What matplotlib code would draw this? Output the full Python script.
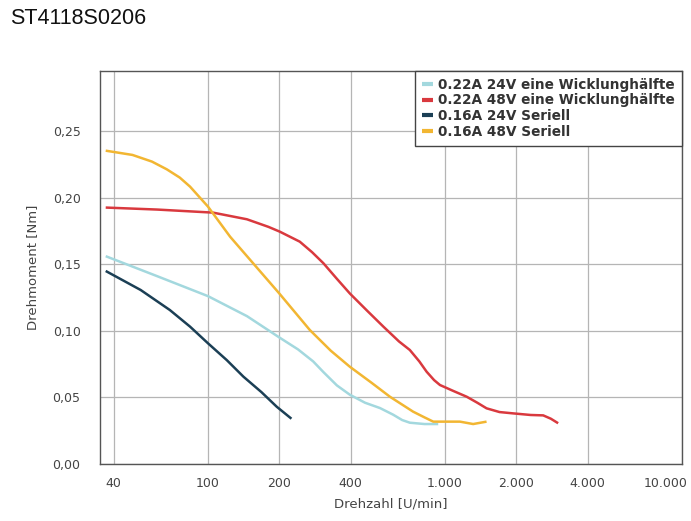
import matplotlib
matplotlib.use("Agg")
import matplotlib.pyplot as plt
import matplotlib.transforms as mtransforms
from matplotlib.ticker import FixedLocator, FixedFormatter, NullLocator

# Drehzahl [U/min] / Drehmoment [Nm]
rpm_a = [37, 61, 100, 146, 200, 240, 278, 307, 350, 397, 460, 532, 605, 660, 711, 820, 937]
nm_a = [0.156, 0.141, 0.126, 0.111, 0.095, 0.086, 0.077, 0.069, 0.059, 0.052, 0.046,
        0.042, 0.037, 0.033, 0.031, 0.030, 0.030]

rpm_b = [37, 61, 105, 146, 180, 201, 244, 275, 307, 350, 397, 470, 550, 640, 711, 780,
         837, 900, 953, 1080, 1236, 1370, 1499, 1700, 1941, 2300, 2600, 2800, 3006]
nm_b = [0.1925, 0.191, 0.1887, 0.1837, 0.178, 0.1744, 0.1669, 0.159, 0.1507, 0.139, 0.128,
        0.115, 0.1031, 0.092, 0.0856, 0.077, 0.0693, 0.063, 0.0593, 0.055, 0.0505, 0.046,
        0.0418, 0.039, 0.038, 0.0368, 0.0365, 0.034, 0.0306]

rpm_c = [37, 52, 69, 84, 100, 120, 141, 168, 195, 225]
nm_c = [0.1449, 0.1306, 0.1156, 0.1031, 0.0906, 0.078, 0.0656, 0.054, 0.043, 0.034]

rpm_d = [37, 48, 58, 67, 76, 84, 100, 124, 155, 200, 269, 330, 397, 490, 586, 734, 820,
         893, 1000, 1157, 1316, 1499]
nm_d = [0.2352, 0.232, 0.227, 0.2212, 0.215, 0.2082, 0.1932, 0.1706, 0.1507, 0.128, 0.1006,
        0.085, 0.073, 0.061, 0.0505, 0.0393, 0.035, 0.0318, 0.0318, 0.0318, 0.030, 0.0318]

labels = ["0.22A 24V eine Wicklunghälfte", "0.22A 48V eine Wicklunghälfte",
          "0.16A 24V Seriell", "0.16A 48V Seriell"]
colors = ["#a3d8de", "#d9393e", "#1b3f55", "#f2b632"]

xticks = [40, 100, 200, 400, 1000, 2000, 4000, 10000]
xticklabels = ["40", "100", "200", "400", "1.000", "2.000", "4.000", "10.000"]
yticks = [0.0, 0.05, 0.10, 0.15, 0.20, 0.25]
yticklabels = ["0,00", "0,05", "0,10", "0,15", "0,20", "0,25"]

fig = plt.figure(figsize=(6.91, 5.21), dpi=100)
ax = fig.add_axes([0.1447, 0.1094, 0.842, 0.7543])

for xs, ys, lab, col in zip([rpm_a, rpm_b, rpm_c, rpm_d], [nm_a, nm_b, nm_c, nm_d], labels, colors):
    ax.plot(xs, ys, color=col, lw=1.8, label=lab, solid_capstyle="butt", solid_joinstyle="round")

ax.set_xscale("log")
ax.set_xlim(35, 10000)
ax.set_ylim(0, 0.295)
ax.xaxis.set_major_locator(FixedLocator(xticks))
ax.xaxis.set_major_formatter(FixedFormatter(xticklabels))
ax.xaxis.set_minor_locator(NullLocator())
ax.set_yticks(yticks)
ax.set_yticklabels(yticklabels)
ax.tick_params(length=0, labelsize=9, colors="#444444")
ax.tick_params(axis="y", pad=14)
ax.tick_params(axis="x", pad=9)
ax.grid(True, color="#b5b5b5", lw=0.9)
ax.set_axisbelow(True)
for s in ax.spines.values():
    s.set_color("#555555")
    s.set_linewidth(1.0)

# last tick label sits at the right edge, nudge it left so it stays on the page
lastlab = ax.get_xticklabels()[-1]
lastlab.set_transform(lastlab.get_transform() + mtransforms.ScaledTranslation(-0.16, 0, fig.dpi_scale_trans))

ax.set_xlabel("Drehzahl [U/min]", fontsize=9.5, color="#444444", labelpad=6)
ax.set_ylabel("Drehmoment [Nm]", fontsize=9.5, color="#444444", labelpad=10)

leg = ax.legend(loc="upper right", bbox_to_anchor=(1.0, 1.0), fancybox=False, framealpha=1,
                edgecolor="#444444", handlelength=0.8, handletextpad=0.4, borderpad=0.5,
                labelspacing=0.12, prop={"weight": "bold", "size": 9.8}, borderaxespad=0.0)
leg.get_frame().set_linewidth(1.0)
for t in leg.get_texts():
    t.set_color("#333333")
for h in leg.get_lines():
    h.set_linewidth(3)

fig.text(0.0145, 0.964, "ST4118S0206", fontsize=15.5, family="Liberation Sans", va="center", color="#111111")

fig.savefig("out.png", dpi=100)
